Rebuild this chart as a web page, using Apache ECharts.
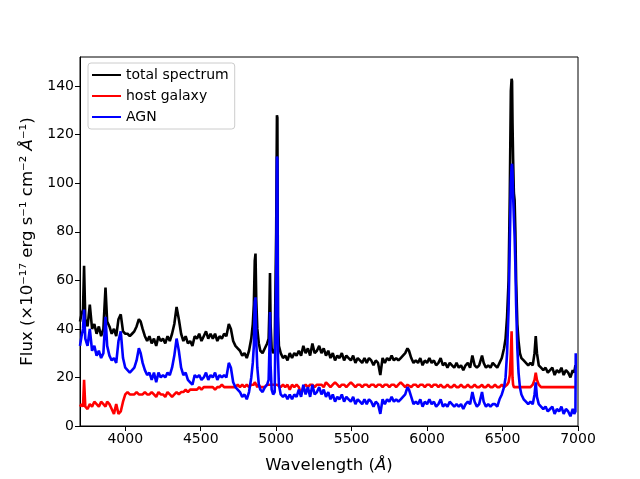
<!DOCTYPE html>
<html lang="en">
<head>
    <meta charset="UTF-8">
    <title>Spectrum decomposition</title>
    <script src="https://cdn.jsdelivr.net/npm/echarts@6/dist/echarts.min.js"></script>
    <style>
        html, body { margin: 0; padding: 0; background: #ffffff; }
        #chart { width: 640px; height: 479px; }
    </style>
</head>
<body>
    <div id="chart"></div>
    <script>
        // wavelength grid (Angstrom), 10 per row so the flux rows line up
        let wave = [
            3700, 3710, 3720, 3727, 3735, 3750, 3765, 3780, 3795, 3810,
            3825, 3840, 3855, 3869, 3880, 3895, 3910, 3925, 3940, 3955,
            3970, 3985, 4000, 4015, 4030, 4045, 4060, 4075, 4090, 4102,
            4115, 4130, 4145, 4160, 4175, 4190, 4205, 4220, 4235, 4250,
            4265, 4280, 4295, 4310, 4325, 4340, 4355, 4370, 4385, 4400,
            4415, 4430, 4445, 4460, 4475, 4490, 4505, 4520, 4535, 4550,
            4565, 4580, 4595, 4610, 4625, 4640, 4655, 4670, 4686, 4700,
            4715, 4730, 4745, 4760, 4775, 4790, 4805, 4820, 4835, 4845,
            4852, 4858, 4863, 4868, 4875, 4885, 4895, 4910, 4925, 4940,
            4950, 4955, 4959, 4963, 4970, 4980, 4990, 5000, 5005, 5008,
            5012, 5018, 5030, 5045, 5060, 5075, 5090, 5105, 5120, 5135,
            5150, 5165, 5180, 5195, 5210, 5225, 5240, 5255, 5270, 5285,
            5300, 5315, 5330, 5345, 5360, 5375, 5390, 5405, 5420, 5435,
            5450, 5465, 5480, 5495, 5510, 5525, 5540, 5555, 5570, 5585,
            5600, 5615, 5630, 5645, 5660, 5675, 5690, 5705, 5720, 5735,
            5750, 5765, 5780, 5795, 5810, 5825, 5840, 5855, 5870, 5880,
            5895, 5910, 5925, 5940, 5955, 5970, 5985, 6000, 6015, 6030,
            6045, 6060, 6075, 6090, 6105, 6120, 6135, 6150, 6165, 6180,
            6195, 6210, 6225, 6240, 6255, 6270, 6285, 6300, 6315, 6330,
            6345, 6364, 6375, 6390, 6405, 6420, 6435, 6450, 6465, 6480,
            6495, 6510, 6520, 6530, 6540, 6548, 6555, 6560, 6563, 6566,
            6570, 6575, 6580, 6585, 6590, 6598, 6606, 6615, 6625, 6640,
            6655, 6670, 6685, 6700, 6712, 6720, 6728, 6740, 6755, 6770,
            6785, 6800, 6815, 6830, 6845, 6860, 6875, 6890, 6905, 6920,
            6935, 6950, 6965, 6975, 6983, 6985
        ];

        // flux in 1e-17 erg/s/cm2/A
        let total = [
            43, 46, 48, 66, 44, 41, 50, 40, 42, 38,
            41, 37, 40, 57, 43, 41, 38, 40, 37, 44,
            46, 39, 38, 38, 37, 38, 39, 41, 44, 43,
            40, 37, 35, 37, 34, 36, 33, 37, 35, 36,
            34, 37, 35, 38, 42, 49, 44, 38, 35, 37,
            34, 35, 33, 37, 36, 38, 35, 37, 39, 36,
            38, 36, 38, 35, 37, 36, 38, 37, 42, 40,
            35, 33, 32, 31, 29, 30, 28, 31, 36, 42,
            50, 68, 71, 52, 40, 34, 31, 30, 32, 34,
            36, 48, 63, 42, 32, 30, 31, 80, 128, 127,
            45, 33, 30, 28, 29, 27, 30, 28, 30, 29,
            31, 29, 33, 30, 32, 29, 34, 30, 31, 33,
            30, 32, 29, 31, 28, 30, 27, 29, 28, 30,
            27, 29, 28, 27, 29, 26, 28, 27, 26, 28,
            26, 28, 27, 25, 27, 26, 21, 28, 26, 28,
            27, 29, 27, 28, 27, 28, 29, 30, 32, 31,
            28, 26, 27, 26, 28, 25, 27, 26, 28, 26,
            27, 25, 26, 28, 25, 26, 24, 26, 25, 24,
            26, 24, 25, 23, 25, 26, 24, 29, 25, 24,
            25, 29, 26, 24, 25, 24, 26, 25, 24, 26,
            28, 32, 36, 45, 60, 95, 138, 143, 142, 125,
            110, 96, 93, 80, 60, 42, 35, 30, 28, 27,
            26, 25, 26, 25, 30, 37, 30, 25, 24, 23,
            24, 22, 23, 24, 21, 23, 22, 24, 21, 23,
            22, 20, 23, 22, 25, 24
        ];

        let host = [
            8, 9, 8, 19, 8, 7, 9, 8, 10, 9,
            8, 10, 9, 8, 10, 9, 7, 5, 9, 5,
            6, 10, 13, 14, 13, 13, 13, 14, 13, 13,
            13, 14, 13, 13, 14, 13, 12, 14, 13, 13,
            12, 14, 13, 12, 13, 14, 13, 14, 14, 15,
            14, 15, 15, 15, 15, 16, 15, 16, 16, 16,
            16, 16, 15, 16, 16, 17, 16, 16, 16, 16,
            16, 16, 17, 16, 17, 16, 17, 16, 17, 17,
            17, 18, 18, 17, 16, 17, 16, 16, 16, 17,
            17, 17, 17, 17, 17, 17, 17, 17, 17, 17,
            17, 17, 16, 17, 16, 17, 15, 17, 16, 17,
            16, 13, 16, 17, 16, 17, 17, 16, 17, 17,
            17, 16, 18, 17, 16, 17, 18, 17, 16, 17,
            17, 16, 17, 18, 17, 16, 17, 17, 16, 17,
            17, 16, 17, 17, 16, 17, 17, 16, 17, 17,
            16, 17, 17, 16, 17, 18, 17, 16, 17, 17,
            16, 17, 17, 16, 17, 17, 16, 17, 17, 16,
            17, 17, 16, 17, 16, 16, 17, 16, 16, 17,
            16, 16, 17, 16, 16, 17, 16, 16, 17, 16,
            16, 17, 16, 16, 17, 16, 16, 17, 16, 16,
            17, 16, 16, 17, 18, 21, 30, 39, 30, 20,
            17, 16, 16, 16, 16, 16, 16, 16, 16, 16,
            16, 16, 16, 17, 19, 22, 19, 17, 16, 16,
            16, 16, 16, 16, 16, 16, 16, 16, 16, 16,
            16, 16, 16, 16, 16, 16
        ];

        let agn = [
            33, 37, 40, 48, 36, 33, 40, 31, 33, 29,
            31, 28, 30, 45, 33, 29, 27, 28, 26, 35,
            39, 28, 24, 23, 22, 23, 24, 27, 32, 30,
            26, 23, 21, 22, 19, 22, 18, 22, 20, 21,
            20, 22, 21, 24, 29, 36, 31, 24, 21, 22,
            19, 18, 17, 21, 20, 21, 19, 20, 22, 19,
            21, 20, 22, 19, 21, 20, 21, 20, 26, 24,
            18, 16, 15, 14, 12, 13, 11, 14, 20, 26,
            33, 51, 53, 35, 24, 17, 15, 14, 16, 17,
            19, 31, 47, 25, 15, 13, 14, 60, 111, 110,
            28, 17, 13, 12, 13, 11, 13, 11, 13, 12,
            15, 12, 17, 13, 16, 12, 17, 13, 14, 16,
            13, 15, 12, 14, 11, 13, 10, 12, 11, 13,
            10, 12, 11, 10, 12, 9, 11, 10, 9, 11,
            9, 11, 10, 8, 10, 9, 5, 11, 9, 11,
            10, 12, 10, 11, 10, 11, 12, 13, 16, 15,
            12, 9, 10, 9, 11, 8, 10, 9, 11, 9,
            10, 8, 9, 11, 8, 9, 8, 10, 9, 8,
            9, 8, 9, 7, 9, 10, 9, 14, 10, 8,
            9, 14, 10, 8, 9, 8, 9, 9, 8, 11,
            13, 16, 20, 30, 48, 75, 100, 107, 108, 105,
            95, 86, 78, 66, 50, 32, 22, 16, 13, 11,
            10, 9, 10, 9, 13, 18, 12, 9, 8, 7,
            8, 6, 7, 8, 5, 7, 6, 8, 5, 7,
            6, 4, 7, 5, 6, 30
        ];

        let xTicks = [4000, 4500, 5000, 5500, 6000, 6500, 7000];
        let yTicks = [0, 20, 40, 60, 80, 100, 120, 140];

        function pairs(vals) {
            return wave.map(function (w, i) { return [w, vals[i]]; });
        }

        let font = 'DejaVu Sans';
        let nameStyle = {
            fontFamily: font, fontSize: 16.5, color: '#000000',
            rich: { i: { fontFamily: font, fontSize: 16.5, fontStyle: 'italic', color: '#000000' } }
        };

        let option = {
            animation: false,
            backgroundColor: '#ffffff',
            textStyle: { fontFamily: font },
            grid: {
                left: 80, right: 62, top: 57, bottom: 53,
                show: true,
                borderColor: '#000000',
                borderWidth: 1
            },
            legend: {
                orient: 'vertical',
                left: 88,
                top: 63,
                padding: [5, 6, 5, 4],
                itemGap: 7,
                itemWidth: 29,
                itemHeight: 2,
                icon: 'rect',
                backgroundColor: '#ffffff',
                borderColor: '#cccccc',
                borderWidth: 1,
                borderRadius: 3,
                textStyle: { fontFamily: font, fontSize: 14, color: '#000000', lineHeight: 14 },
                data: ['total spectrum', 'host galaxy', 'AGN']
            },
            xAxis: {
                type: 'value',
                min: 3700,
                max: 7000,
                name: 'Wavelength ({i|Å})',
                nameLocation: 'middle',
                nameGap: 31,
                nameTextStyle: nameStyle,
                splitLine: { show: false },
                axisLine: { lineStyle: { color: '#000000', width: 1 } },
                axisTick: { length: 5, customValues: xTicks, lineStyle: { color: '#000000' } },
                axisLabel: {
                    customValues: xTicks, color: '#000000', fontSize: 14, margin: 6, fontFamily: font,
                    formatter: function (v) { return String(v); }
                }
            },
            yAxis: {
                type: 'value',
                min: 0,
                max: 152,
                name: 'Flux (×10⁻¹⁷ erg s⁻¹ cm⁻² {i|Å}⁻¹)',
                nameLocation: 'middle',
                nameGap: 42,
                nameRotate: 90,
                nameTextStyle: nameStyle,
                splitLine: { show: false },
                axisLine: { show: true, lineStyle: { color: '#000000', width: 1 } },
                axisTick: { show: true, length: 5, customValues: yTicks, lineStyle: { color: '#000000' } },
                axisLabel: { customValues: yTicks, color: '#000000', fontSize: 14, margin: 6, fontFamily: font }
            },
            series: [
                {
                    name: 'total spectrum',
                    type: 'line',
                    showSymbol: false,
                    color: '#000000',
                    lineStyle: { width: 2.6, color: '#000000' },
                    data: pairs(total)
                },
                {
                    name: 'host galaxy',
                    type: 'line',
                    showSymbol: false,
                    color: '#ff0000',
                    lineStyle: { width: 2.6, color: '#ff0000' },
                    data: pairs(host)
                },
                {
                    name: 'AGN',
                    type: 'line',
                    showSymbol: false,
                    color: '#0000ff',
                    lineStyle: { width: 2.6, color: '#0000ff' },
                    data: pairs(agn)
                }
            ]
        };

        let chart = echarts.init(document.getElementById('chart'));
        chart.setOption(option);
    </script>
</body>
</html>
